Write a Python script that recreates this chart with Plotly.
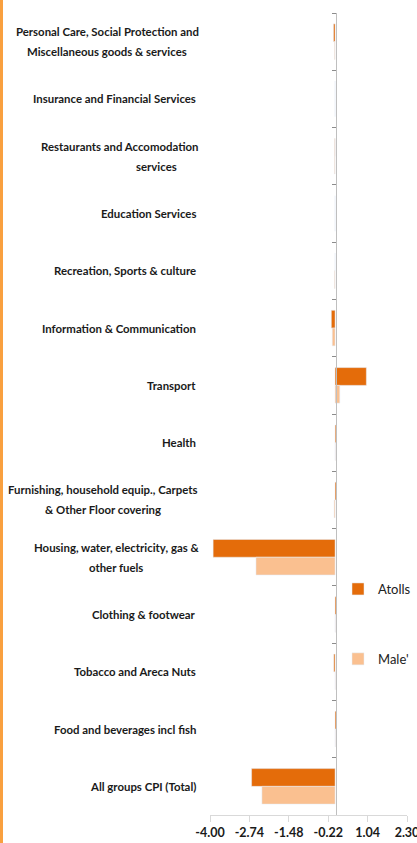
import plotly.graph_objects as go

categories = [
    "Personal Care, Social Protection and<br>Miscellaneous goods & services",
    "Insurance and Financial Services",
    "Restaurants and Accomodation<br>services",
    "Education Services",
    "Recreation, Sports & culture",
    "Information & Communication",
    "Transport",
    "Health",
    "Furnishing, household equip., Carpets<br>& Other Floor covering",
    "Housing, water, electricity, gas &<br>other fuels",
    "Clothing & footwear",
    "Tobacco and Areca Nuts",
    "Food and beverages incl fish",
    "All groups CPI (Total)",
]
atolls = [-0.05, 0.0, -0.01, 0.0, 0.0, -0.12, 1.00, 0.03, 0.04, -3.90, 0.04, -0.04, 0.04, -2.67]
male = [-0.02, 0.0, -0.02, 0.0, -0.02, -0.09, 0.15, 0.01, -0.03, -2.53, 0.01, 0.01, 0.01, -2.34]
tick_vals = [-4.00, -2.74, -1.48, -0.22, 1.04, 2.30]
tick_text = ["-4.00", "-2.74", "-1.48", "-0.22", "1.04", "2.30"]

FONT = "Lato, Liberation Sans, sans-serif"
W, H = 417, 843
L, R, T, B = 210, 10, 13, 28
pw = W - L - R
ph = H - T - B
LABEL_RIGHT = 198
# pixel centres for the lines of wrapped labels (layout only)
line_centres = {0: [107, 107], 2: [119, 156], 8: [103, 103], 9: [116, 116]}

fig = go.Figure()
fig.add_trace(go.Bar(y=categories, x=atolls, orientation="h", name="Atolls",
                     marker_color="#E46C0A", legendgroup="a"))
fig.add_trace(go.Bar(y=categories, x=male, orientation="h", name="Male'",
                     marker_color="#FAC090", legendgroup="b"))

lab_font = dict(family=FONT, size=11.4, color="#1a1a1a", weight="bold")
annotations = []
for k, c in enumerate(categories):
    lines = c.split("<br>")
    n = len(lines)
    for i, line in enumerate(lines):
        shift = ((n - 1) / 2 - i) * 20
        if n == 1:
            xpx, anchor = LABEL_RIGHT, "right"
        else:
            xpx, anchor = line_centres[k][i], "center"
        annotations.append(dict(
            x=(xpx - L) / pw, xref="paper", y=c, yref="y", yshift=shift,
            text=line, showarrow=False, xanchor=anchor, align="center",
            font=lab_font,
        ))

fig.update_layout(
    width=W, height=H,
    margin=dict(l=L, r=R, t=T, b=B, autoexpand=False),
    paper_bgcolor="white", plot_bgcolor="white",
    barmode="group", bargap=0.38, bargroupgap=0,
    showlegend=True,
    legend=dict(x=(416 - L) / pw, y=(815 - 574) / ph, xanchor="right", yanchor="top",
                tracegroupgap=50, bgcolor="rgba(0,0,0,0)", itemwidth=30,
                font=dict(family=FONT, size=13, color="#222")),
    annotations=annotations,
    shapes=[dict(type="rect", xref="paper", yref="paper",
                 x0=-L / pw, x1=(3 - L) / pw, y0=-0.1, y1=1.1,
                 fillcolor="#F9A03F", line_width=0, layer="above")],
)
fig.update_xaxes(range=[-4.0, 2.30], tickvals=tick_vals, ticktext=tick_text,
                 showgrid=False, zeroline=False, showline=True, linecolor="#d9d9d9",
                 ticks="outside", ticklen=6, tickcolor="#d9d9d9", automargin=False,
                 ticklabeloverflow="allow",
                 tickfont=dict(family=FONT, size=12.5, color="#1a1a1a", weight="bold"))
fig.update_yaxes(type="category", categoryorder="array", categoryarray=categories,
                 autorange="reversed", showticklabels=False, showgrid=False,
                 showline=True, linecolor="#bfbfbf", anchor="free", automargin=False,
                 position=(335.6 - L) / pw, ticks="outside", ticklen=4,
                 tickcolor="#8c8c8c", tickson="boundaries")

fig.write_html("out.html", config={"displayModeBar": False},
               post_script="document.body.style.margin='0';document.body.style.overflow='hidden';")
